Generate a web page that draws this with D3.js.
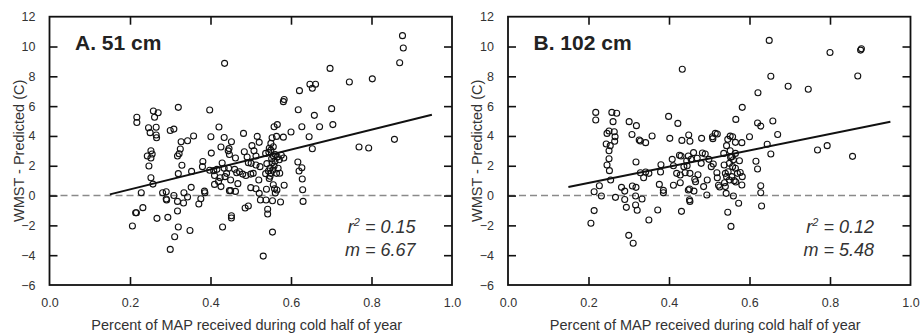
<!DOCTYPE html>
<html>
<head>
<meta charset="utf-8">
<script src="https://cdn.jsdelivr.net/npm/d3@7"></script>
<style>
  html, body { margin: 0; padding: 0; background: #fff; }
  svg { display: block; font-family: "Liberation Sans", Arial, Helvetica, sans-serif; }
</style>
</head>
<body>
<svg id="chart" width="920" height="334"></svg>
<script>
// ---------- DATA ----------
const xTicks = [0.0, 0.2, 0.4, 0.6, 0.8, 1.0];
const yTicks = [-6, -4, -2, 0, 2, 4, 6, 8, 10, 12];
const panelTitles = ["A. 51 cm", "B. 102 cm"];
const r2Labels = ["0.15", "0.12"];
const slopeLabels = ["6.67", "5.48"];
const fitA = [[0.15, 0.08], [0.95, 5.42]];
const fitB = [[0.15, 0.57], [0.95, 4.95]];
const xLabel = "Percent of MAP received during cold half of year";
const yLabel = "WMST - Predicted (C)";

const pointsA = [
  [0.217,5.25],[0.217,4.9],[0.258,5.67],[0.27,5.56],[0.261,5.25],[0.32,5.92],[0.398,5.74],
  [0.246,4.55],[0.265,4.58],[0.25,4.22],[0.265,4.06],[0.266,3.88],
  [0.30,4.37],[0.309,4.46],[0.358,4.0],[0.343,3.68],[0.327,3.61],
  [0.401,3.95],[0.421,4.6],[0.434,3.9],[0.435,8.87],[0.452,3.61],
  [0.482,4.17],[0.516,3.97],[0.521,3.57],
  [0.243,2.65],[0.252,3.01],[0.255,2.79],[0.252,2.52],[0.247,1.98],[0.252,1.2],[0.257,0.77],
  [0.325,3.12],[0.322,2.81],[0.318,2.65],[0.329,2.03],[0.32,1.47],[0.353,1.62],
  [0.381,2.29],[0.38,1.94],
  [0.402,2.85],[0.426,3.26],[0.444,3.0],[0.447,2.76],[0.462,2.52],[0.446,3.15],
  [0.429,2.18],[0.434,1.83],[0.416,1.76],[0.408,1.67],[0.445,1.83],[0.44,1.49],[0.45,1.04],
  [0.436,1.27],[0.424,1.2],[0.41,1.35],[0.398,1.7],[0.42,0.95],
  [0.46,1.76],[0.465,1.53],[0.472,1.6],[0.48,1.44],[0.488,1.35],
  [0.484,2.94],[0.491,2.59],[0.503,3.35],[0.508,3.0],[0.513,2.65],[0.501,2.16],[0.494,2.2],
  [0.513,2.05],[0.523,1.94],[0.506,1.49],[0.5,1.44],[0.52,1.04],
  [0.537,2.83],[0.546,3.17],[0.55,3.5],[0.553,3.88],[0.558,4.62],[0.566,4.76],[0.564,3.97],
  [0.556,3.28],[0.581,3.92],[0.583,6.45],[0.581,6.3],
  [0.537,1.47],[0.54,2.14],[0.544,1.65],[0.546,1.15],[0.55,1.49],[0.552,2.47],[0.556,2.67],
  [0.561,2.76],[0.566,2.58],[0.571,2.4],[0.576,2.7],[0.582,2.52],[0.568,1.83],[0.564,1.49],
  [0.558,1.98],[0.555,1.71],[0.548,1.85],[0.545,2.9],[0.55,3.05],[0.553,2.2],[0.56,2.3],
  [0.572,1.5],[0.548,1.3],
  [0.6,4.26],[0.618,5.76],[0.621,7.04],[0.627,4.62],[0.645,3.95],[0.653,3.14],[0.658,5.38],
  [0.671,4.62],[0.647,7.47],[0.653,7.2],[0.661,7.47],[0.697,8.53],[0.701,5.83],[0.704,4.76],
  [0.745,7.62],[0.769,3.26],[0.793,3.19],[0.802,7.83],[0.857,3.77],[0.87,8.91],[0.877,10.73],[0.879,9.9],
  [0.617,2.25],[0.62,1.65],[0.627,1.87],[0.628,1.11],[0.629,0.39],[0.63,-0.39],
  [0.206,-2.04],[0.214,-1.15],[0.216,-1.15],[0.232,-0.81],[0.228,0.19],[0.267,-1.53],[0.281,0.19],
  [0.29,0.26],[0.29,-0.23],[0.291,-0.3],[0.294,-1.46],[0.3,-3.61],[0.311,-2.76],[0.318,-1.04],
  [0.32,-2.11],[0.309,0.0],[0.318,-0.39],[0.333,-0.5],[0.334,0.19],[0.343,-0.1],[0.352,0.55],
  [0.349,-2.34],[0.371,-0.57],[0.376,-0.21],[0.385,0.3],[0.386,0.19],[0.41,0.75],[0.426,0.6],
  [0.43,-2.11],[0.447,0.33],[0.45,0.33],[0.462,0.28],[0.468,0.8],[0.452,-1.35],[0.452,-1.5],
  [0.486,-0.83],[0.494,-0.7],[0.5,0.53],[0.513,0.46],[0.521,0.15],[0.524,-0.3],[0.538,-0.3],
  [0.539,0.42],[0.542,-0.92],[0.542,-1.24],[0.531,-4.06],[0.554,-2.45],[0.554,-0.35],[0.556,0.73],
  [0.559,0.46],[0.561,0.17],[0.565,0.37],[0.574,-0.43],[0.583,0.69]
];

const pointsB = [
  [0.218,5.58],[0.218,5.07],[0.258,5.58],[0.27,5.52],[0.261,4.96],
  [0.301,4.96],[0.319,4.69],[0.308,4.1],[0.326,3.73],[0.329,3.66],[0.342,3.55],[0.358,4.0],
  [0.399,5.31],[0.422,4.84],[0.402,3.84],[0.433,8.47],[0.432,3.7],[0.449,4.06],[0.452,3.64],
  [0.481,3.84],[0.508,3.95],[0.515,4.17],[0.52,4.13],[0.509,3.82],
  [0.246,4.17],[0.251,4.33],[0.264,4.28],[0.266,3.95],[0.265,3.64],[0.244,3.46],[0.254,3.35],
  [0.251,3.01],[0.251,2.47],[0.246,2.05],[0.252,1.67],[0.255,1.04],
  [0.318,2.25],[0.329,1.53],[0.337,1.2],[0.342,1.58],[0.35,1.49],[0.38,2.07],[0.379,1.58],
  [0.376,0.75],[0.386,0.35],[0.386,0.19],
  [0.408,2.43],[0.411,2.0],[0.411,0.69],[0.426,2.7],[0.428,0.86],
  [0.419,1.49],[0.428,1.38],[0.437,1.94],[0.444,2.32],[0.448,2.65],[0.455,2.43],[0.461,2.88],
  [0.44,1.53],[0.452,1.49],[0.464,1.09],[0.466,0.93],[0.472,1.4],[0.48,2.16],[0.483,2.86],
  [0.49,2.79],[0.499,2.43],[0.495,1.04],[0.505,1.94],[0.51,2.12],[0.519,1.53],[0.52,1.2],
  [0.523,0.69],[0.526,0.57],[0.486,0.6],[0.494,0.04],[0.43,2.65],[0.445,2.0],[0.47,2.5],
  [0.451,0.44],[0.448,0.37],[0.451,-0.28],[0.452,-0.39],[0.431,-1.06],[0.462,0.3],
  [0.206,-1.86],[0.214,-1.01],[0.214,0.26],[0.227,0.66],[0.232,-0.03],[0.267,-0.12],[0.282,0.55],
  [0.29,0.3],[0.29,-0.26],[0.294,-0.79],[0.3,-2.67],[0.311,-3.2],[0.309,0.64],[0.318,0.55],
  [0.317,-0.03],[0.317,-0.63],[0.321,-0.99],[0.333,-0.23],[0.35,-1.64],[0.372,-0.97],
  [0.546,-1.12],[0.554,-2.07],[0.542,0.15],[0.54,0.6],[0.56,-0.03],[0.573,-0.52],[0.581,0.71],[0.582,1.27],
  [0.536,2.83],[0.543,3.35],[0.546,3.77],[0.552,3.99],[0.558,3.95],[0.565,3.57],[0.581,3.55],
  [0.552,3.01],[0.566,5.11],[0.582,5.92],[0.565,2.83],[0.556,2.61],[0.55,2.16],[0.575,2.34],
  [0.537,2.05],[0.54,1.49],[0.543,1.27],[0.55,1.04],[0.556,1.27],[0.562,1.0],[0.565,1.83],
  [0.57,1.49],[0.558,1.94],[0.547,1.6],[0.577,1.55],[0.566,0.91],[0.553,2.57],[0.538,0.86],[0.56,2.4],
  [0.6,3.95],[0.62,4.87],[0.628,4.66],[0.621,6.9],[0.616,2.3],[0.62,1.78],[0.628,0.66],[0.628,0.19],
  [0.63,-0.7],[0.644,3.44],[0.653,2.79],[0.649,10.41],[0.653,8.0],[0.658,5.0],[0.67,4.1],
  [0.696,7.33],[0.746,7.13],[0.769,3.06],[0.793,3.35],[0.8,9.6],[0.856,2.63],[0.869,8.02],
  [0.876,9.76],[0.878,9.85]
];

// ---------- DRAW ----------
const svg = d3.select("#chart");
const panels = [
  { left: 49.5, pts: pointsA, fit: fitA },
  { left: 508, pts: pointsB, fit: fitB }
];
const pw = 402.5, plotTop = 16.7, plotBottom = 285;
const tickLen = 8;
const txtColor = "#333";

panels.forEach((p, i) => {
  const x = d3.scaleLinear().domain([0, 1]).range([p.left, p.left + pw]);
  const y = d3.scaleLinear().domain([-6, 12]).range([plotBottom, plotTop]);
  const g = svg.append("g");

  // zero dashed line
  g.append("line")
    .attr("x1", x(0)).attr("x2", x(1)).attr("y1", y(0)).attr("y2", y(0))
    .attr("stroke", "#8a8a8a").attr("stroke-width", 1.5).attr("stroke-dasharray", "7,4");

  // axes with inward ticks
  const inner = (arr, lo, hi) => arr.filter(v => v > lo && v < hi);
  const fmt = d3.format(".1f");
  const ax = [
    g.append("g").attr("transform", `translate(0,${plotBottom})`)
      .call(d3.axisBottom(x).tickValues(xTicks).tickFormat(fmt).tickSizeInner(-tickLen).tickSizeOuter(0).tickPadding(13)),
    g.append("g").attr("transform", `translate(0,${plotTop})`)
      .call(d3.axisTop(x).tickValues(inner(xTicks, 0, 1)).tickFormat("").tickSizeInner(-tickLen).tickSizeOuter(0)),
    g.append("g").attr("transform", `translate(${p.left},0)`)
      .call(d3.axisLeft(y).tickValues(yTicks).tickFormat(d3.format("d")).tickSizeInner(-tickLen).tickSizeOuter(0).tickPadding(14)),
    g.append("g").attr("transform", `translate(${p.left + pw},0)`)
      .call(d3.axisRight(y).tickValues(inner(yTicks, -6, 12)).tickFormat("").tickSizeInner(-tickLen).tickSizeOuter(0))
  ];
  ax.forEach(a => {
    a.select(".domain").remove();
    a.selectAll(".tick line").attr("stroke", "#111").attr("stroke-width", 1.6);
    a.selectAll(".tick text").attr("fill", txtColor).style("font-size", "12.5px");
  });
  ax[0].selectAll(".tick").filter(d => d === 0 || d === 1).select("line").remove();
  ax[2].selectAll(".tick").filter(d => d === -6 || d === 12).select("line").remove();

  // frame
  g.append("rect")
    .attr("x", x(0)).attr("y", plotTop).attr("width", pw).attr("height", plotBottom - plotTop)
    .attr("fill", "none").attr("stroke", "#111").attr("stroke-width", 1.8);

  // regression line
  g.append("line")
    .attr("x1", x(p.fit[0][0])).attr("y1", y(p.fit[0][1]))
    .attr("x2", x(p.fit[1][0])).attr("y2", y(p.fit[1][1]))
    .attr("stroke", "#111").attr("stroke-width", 2);

  // points
  g.append("g").selectAll("circle").data(p.pts).join("circle")
    .attr("cx", d => x(d[0])).attr("cy", d => y(d[1])).attr("r", 3)
    .attr("fill", "none").attr("stroke", "#111").attr("stroke-width", 1.1);

  // title
  g.append("text").attr("x", p.left + 25.5).attr("y", 50)
    .attr("fill", "#222").style("font-size", "21px").style("font-weight", "bold")
    .text(panelTitles[i]);

  // stats
  const st = g.append("text").attr("x", p.left + 366).attr("y", 232.5)
    .attr("text-anchor", "end").attr("fill", "#333")
    .style("font-size", "18px").style("font-style", "italic");
  st.append("tspan").text("r");
  st.append("tspan").attr("dy", -7).style("font-size", "11px").text("2");
  st.append("tspan").attr("dy", 7).text(" = " + r2Labels[i]);
  g.append("text").attr("x", p.left + 366).attr("y", 255.5)
    .attr("text-anchor", "end").attr("fill", "#333")
    .style("font-size", "18px").style("font-style", "italic")
    .text("m = " + slopeLabels[i]);

  // axis labels
  g.append("text").attr("x", p.left + pw / 2 - 4).attr("y", 330)
    .attr("text-anchor", "middle").attr("fill", txtColor).style("font-size", "14.5px")
    .text(xLabel);
  g.append("text").attr("transform", `translate(${p.left - 26},${(plotTop + plotBottom) / 2}) rotate(-90)`)
    .attr("text-anchor", "middle").attr("fill", txtColor).style("font-size", "14.5px")
    .text(yLabel);
});
</script>
</body>
</html>
